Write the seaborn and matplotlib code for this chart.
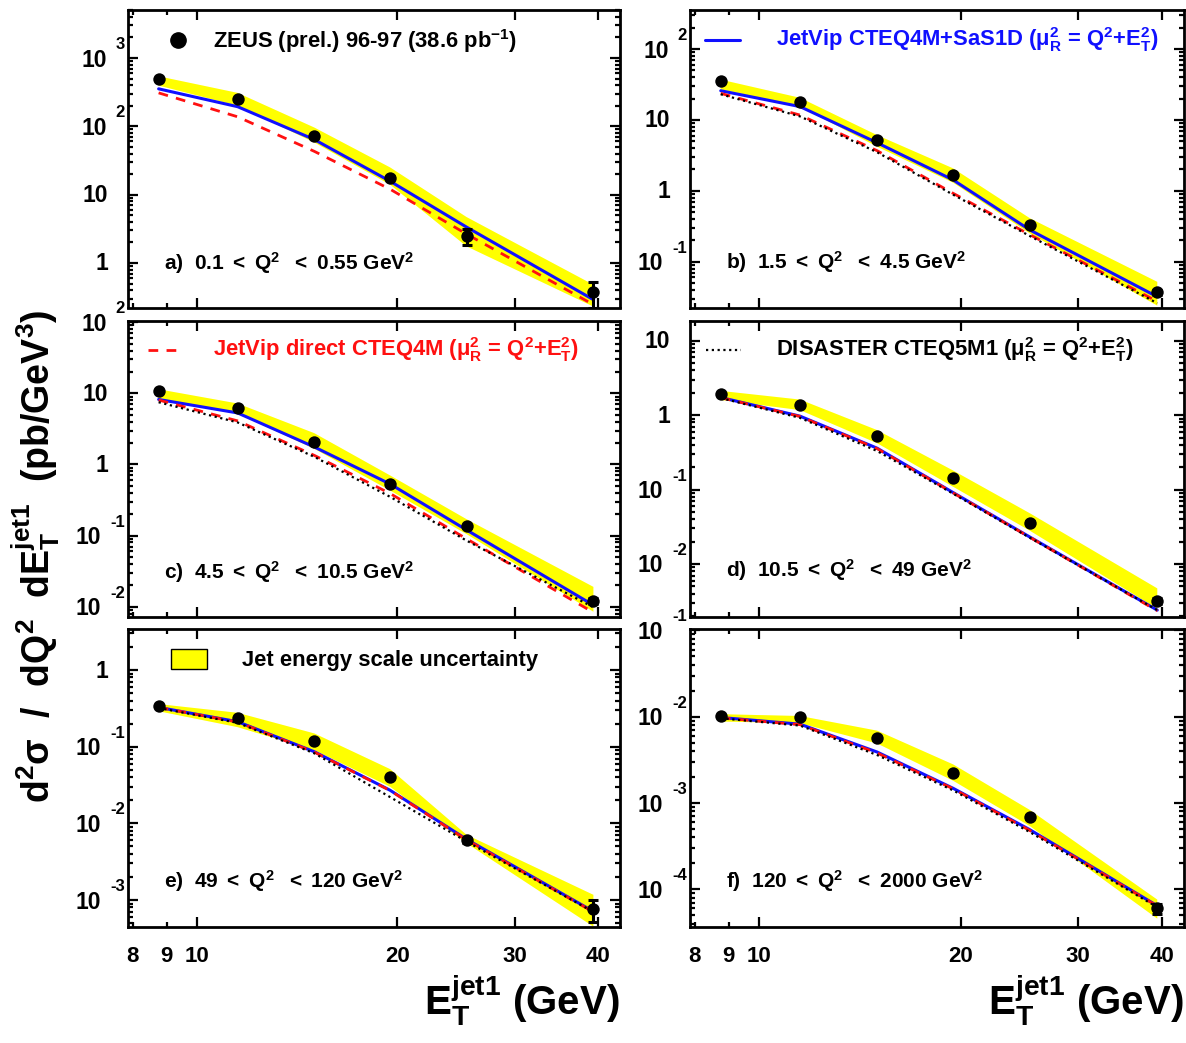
import numpy as np
import matplotlib
matplotlib.use("Agg")
import matplotlib.pyplot as plt
import matplotlib.transforms as mtrans
from matplotlib.lines import Line2D
from matplotlib.patches import Rectangle
import seaborn as sns

# ---------------- data ----------------
et = [8.75, 11.5, 15.0, 19.5, 25.4, 39.4]

a_data = [490, 250, 71, 17.8, 2.5, 0.37]
a_err = [20, 10, 3, 0.8, 0.65, 0.15]
a_jetvip = [354, 194, 64, 15.7, 3.35, 0.29]
a_direct = [309, 138, 43, 12.0, 2.65, 0.245]
a_band_hi = [540, 309, 96, 25, 4.7, 0.48]
a_band_lo = [395, 200, 58, 14, 1.75, 0.23]

b_data = [35.4, 17.7, 5.2, 1.67, 0.33, 0.037]
b_err = [1.0, 0.6, 0.2, 0.07, 0.015, 0.003]
b_jetvip = [25.8, 15.4, 4.76, 1.42, 0.28, 0.032]
b_direct = [23.7, 11.7, 3.68, 0.92, 0.24, 0.0275]
b_disaster = [23.0, 11.2, 3.5, 0.88, 0.23, 0.026]
b_band_hi = [37, 20.5, 6.1, 2.07, 0.41, 0.052]
b_band_lo = [27, 15.4, 4.2, 1.3, 0.25, 0.024]

c_data = [10.8, 6.2, 2.1, 0.53, 0.135, 0.012]
c_err = [0.3, 0.2, 0.08, 0.02, 0.007, 0.0012]
c_jetvip = [8.2, 5.3, 1.76, 0.53, 0.12, 0.0105]
c_direct = [8.05, 4.1, 1.34, 0.39, 0.090, 0.0083]
c_disaster = [7.5, 3.9, 1.28, 0.35, 0.085, 0.0098]
c_band_hi = [11.4, 7.2, 2.75, 0.70, 0.17, 0.019]
c_band_lo = [8.05, 5.2, 1.66, 0.43, 0.105, 0.0085]

d_data = [1.91, 1.39, 0.52, 0.141, 0.036, 0.0032]
d_err = [0.05, 0.04, 0.02, 0.006, 0.002, 0.0003]
d_jetvip = [1.73, 0.97, 0.36, 0.091, 0.023, 0.0024]
d_direct = [1.72, 0.96, 0.355, 0.090, 0.0228, 0.00235]
d_disaster = [1.70, 0.92, 0.33, 0.088, 0.0225, 0.0024]
d_band_hi = [2.12, 1.62, 0.63, 0.18, 0.048, 0.0047]
d_band_lo = [1.6, 1.17, 0.42, 0.109, 0.028, 0.0025]

e_data = [0.34, 0.234, 0.119, 0.040, 0.0060, 0.00076]
e_err = [0.01, 0.008, 0.005, 0.002, 0.0004, 0.00025]
e_jetvip = [0.326, 0.212, 0.086, 0.027, 0.0062, 0.00071]
e_direct = [0.325, 0.21, 0.085, 0.0268, 0.0061, 0.0007]
e_disaster = [0.32, 0.205, 0.082, 0.022, 0.0058, 0.00070]
e_band_hi = [0.36, 0.277, 0.149, 0.051, 0.0071, 0.00117]
e_band_lo = [0.29, 0.18, 0.09, 0.030, 0.0055, 0.00045]

f_data = [0.0102, 0.0098, 0.0056, 0.0022, 0.00069, 0.00006]
f_err = [0.0003, 0.0003, 0.0002, 0.0001, 0.00004, 0.000008]
f_jetvip = [0.0098, 0.0082, 0.0039, 0.00148, 0.00049, 0.0000645]
f_direct = [0.0097, 0.0081, 0.0038, 0.00146, 0.00048, 0.000064]
f_disaster = [0.0096, 0.0079, 0.0036, 0.0014, 0.00046, 0.000062]
f_band_hi = [0.0107, 0.0102, 0.0069, 0.0028, 0.00083, 0.000076]
f_band_lo = [0.0088, 0.0084, 0.0049, 0.00181, 0.00054, 0.0000457]

panel_labels = [
    r"a)  0.1 $<$ Q$^{2}$  $<$ 0.55 GeV$^{2}$",
    r"b)  1.5 $<$ Q$^{2}$  $<$ 4.5 GeV$^{2}$",
    r"c)  4.5 $<$ Q$^{2}$  $<$ 10.5 GeV$^{2}$",
    r"d)  10.5 $<$ Q$^{2}$  $<$ 49 GeV$^{2}$",
    r"e)  49 $<$ Q$^{2}$  $<$ 120 GeV$^{2}$",
    r"f)  120 $<$ Q$^{2}$  $<$ 2000 GeV$^{2}$",
]
ylims = [(0.2228, 5047), (0.0226, 355), (0.00728, 105),
         (0.00197, 18.6), (4.45e-4, 3.39), (3.66e-5, 0.1028)]
xticks_major = [10, 20, 30, 40]
xticks_minor = [8, 9]
xlim = (7.87, 43.2)

legend_zeus = r"ZEUS (prel.) 96-97 (38.6 pb$^{-1}$)"
legend_jetvip = r"JetVip CTEQ4M+SaS1D ($\mu_{R}^{2}$ = Q$^{2}$+E$_{T}^{2}$)"
legend_direct = r"JetVip direct CTEQ4M ($\mu_{R}^{2}$ = Q$^{2}$+E$_{T}^{2}$)"
legend_disaster = r"DISASTER CTEQ5M1 ($\mu_{R}^{2}$ = Q$^{2}$+E$_{T}^{2}$)"
legend_band = "Jet energy scale uncertainty"
xlabel = r"E$_{T}^{jet1}$ (GeV)"
ylabel = r"d$^{2}\sigma$  /  dQ$^{2}$  dE$_{T}^{jet1}$  (pb/GeV$^{3}$)"

panels = [
    (a_data, a_err, a_jetvip, a_direct, None, a_band_lo, a_band_hi),
    (b_data, b_err, b_jetvip, b_direct, b_disaster, b_band_lo, b_band_hi),
    (c_data, c_err, c_jetvip, c_direct, c_disaster, c_band_lo, c_band_hi),
    (d_data, d_err, d_jetvip, d_direct, d_disaster, d_band_lo, d_band_hi),
    (e_data, e_err, e_jetvip, e_direct, e_disaster, e_band_lo, e_band_hi),
    (f_data, f_err, f_jetvip, f_direct, f_disaster, f_band_lo, f_band_hi),
]

# ---------------- style ----------------
sns.set_theme(style="ticks")
plt.rcParams["font.family"] = ["Liberation Sans", "DejaVu Sans"]
plt.rcParams["font.weight"] = "bold"
plt.rcParams["text.color"] = "black"
plt.rcParams["axes.labelcolor"] = "black"
plt.rcParams["xtick.color"] = "black"
plt.rcParams["ytick.color"] = "black"
plt.rcParams["xtick.labelcolor"] = "black"
plt.rcParams["ytick.labelcolor"] = "black"
plt.rcParams["mathtext.fontset"] = "custom"
plt.rcParams["mathtext.rm"] = "Liberation Sans:bold"
plt.rcParams["mathtext.it"] = "Liberation Sans:bold"
plt.rcParams["mathtext.bf"] = "Liberation Sans:bold"
plt.rcParams["mathtext.sf"] = "Liberation Sans:bold"
plt.rcParams["mathtext.default"] = "rm"
plt.rcParams["hatch.linewidth"] = 0.8

BLUE = "#1010ff"
RED = "#ff1010"
YELLOW = "#ffff00"

W, H = 1186, 1043
fig = plt.figure(figsize=(W / 100, H / 100), dpi=100)

col_x = [(128, 620), (690, 1184)]
row_y = [(10, 307.5), (320.7, 616.5), (629.4, 927)]


def px_rect(x0, x1, y0, y1):
    return [x0 / W, 1 - y1 / H, (x1 - x0) / W, (y1 - y0) / H]


def pixel_offset(trans, dx, dy):
    return trans + mtrans.Affine2D().translate(dx, dy)


axes = []
for i in range(6):
    r, c = divmod(i, 2)
    ax = fig.add_axes(px_rect(col_x[c][0], col_x[c][1], row_y[r][0], row_y[r][1]))
    axes.append(ax)
    ax.set_xscale("log")
    ax.set_yscale("log")
    ax.set_xlim(*xlim)
    ax.set_ylim(*ylims[i])

    data, err, jv, dr, ds, blo, bhi = panels[i]

    ax.fill_between(et, blo, bhi, facecolor="#fffff0", edgecolor=YELLOW,
                    hatch="x" * 16, linewidth=0, zorder=1)
    sns.lineplot(x=et, y=jv, ax=ax, color=BLUE, linewidth=2.2,
                 estimator=None, sort=False, zorder=3)
    sns.lineplot(x=et, y=dr, ax=ax, color=RED, linewidth=2.0,
                 estimator=None, sort=False, zorder=4)
    ax.lines[-1].set_dashes([3.5, 3])
    if ds is not None:
        sns.lineplot(x=et, y=ds, ax=ax, color="black", linewidth=1.6,
                     estimator=None, sort=False, zorder=4.5)
        ax.lines[-1].set_dashes([1, 1.6])
    ax.errorbar(et, data, yerr=err, fmt="none", ecolor="black",
                elinewidth=2.2, capsize=3.5, capthick=2.2, zorder=5)
    sns.scatterplot(x=et, y=data, ax=ax, color="black", s=80,
                    linewidth=0, zorder=6)

    # axes styling
    for sp in ax.spines.values():
        sp.set_linewidth(2.0)
        sp.set_color("black")
        sp.set_visible(True)
    ax.set_xticks(xticks_major)
    ax.set_xticks(xticks_minor, minor=True)
    ax.tick_params(axis="both", which="both", direction="in", top=True,
                   right=True, width=1.6, color="black")
    ax.tick_params(axis="both", which="major", length=7)
    ax.tick_params(axis="both", which="minor", length=3.6)
    ax.yaxis.set_major_locator(matplotlib.ticker.LogLocator(base=10, numticks=20))
    ax.yaxis.set_minor_locator(matplotlib.ticker.LogLocator(
        base=10, subs=np.arange(2, 10), numticks=40))
    ax.tick_params(axis="y", which="both", labelleft=False)
    if r == 2:
        ax.set_xticklabels([str(v) for v in xticks_major])
        ax.set_xticklabels([str(v) for v in xticks_minor], minor=True)
        ax.tick_params(axis="x", which="both", labelsize=16, pad=14,
                       labelcolor="black")
        for lab in ax.get_xticklabels(which="both"):
            lab.set_fontweight("bold")
    else:
        ax.tick_params(axis="x", which="both", labelbottom=False)
    ax.set_xlabel("")
    ax.set_ylabel("")
    ax.grid(False)

    # ROOT-like y tick labels
    blend = mtrans.blended_transform_factory(ax.transAxes, ax.transData)
    lo, hi = ylims[i]
    for e in range(-6, 5):
        v = 10.0 ** e
        if v < lo or v > hi * 1.0001:
            continue
        if e in (0, 1):
            ax.text(0, v, "1" if e == 0 else "10",
                    transform=pixel_offset(blend, -20, -1),
                    ha="right", va="center", fontsize=16.5, fontweight="bold",
                    color="black")
        else:
            ex = ax.text(0, v, str(e),
                         transform=pixel_offset(blend, -3, 6),
                         ha="right", va="bottom", fontsize=12,
                         fontweight="bold", color="black")
            ax.annotate("10", xy=(0, 0), xycoords=ex, xytext=(-9, -8),
                        textcoords="offset pixels", ha="right", va="center",
                        fontsize=16.5, fontweight="bold", color="black",
                        annotation_clip=False)

    # panel label
    lab_y = [0.148, 0.152, 0.149, 0.156, 0.155, 0.155][i]
    ax.text(0.073, lab_y, panel_labels[i], transform=ax.transAxes,
            ha="left", va="center", fontsize=15, fontweight="bold",
            color="black")

# ---------------- legends (ROOT style, inside panels) ----------------
axa, axb, axc, axd, axe, axf = axes
axa.add_line(Line2D([0.102], [0.899], transform=axa.transAxes, marker="o",
                    markersize=11, color="black", linestyle="none"))
axa.text(0.173, 0.896, legend_zeus, transform=axa.transAxes, ha="left",
         va="center", fontsize=15.8, fontweight="bold", color="black")

axb.add_line(Line2D([0.030, 0.101], [0.899, 0.899], transform=axb.transAxes,
                    color=BLUE, linewidth=2.2))
axb.text(0.174, 0.899, legend_jetvip, transform=axb.transAxes, ha="left",
         va="center", fontsize=15.8, fontweight="bold", color=BLUE)

ln = Line2D([0.041, 0.102], [0.901, 0.901], transform=axc.transAxes,
            color=RED, linewidth=2.0)
ln.set_dashes([3.5, 3])
axc.add_line(ln)
axc.text(0.173, 0.901, legend_direct, transform=axc.transAxes, ha="left",
         va="center", fontsize=15.8, fontweight="bold", color=RED)

ln = Line2D([0.032, 0.103], [0.901, 0.901], transform=axd.transAxes,
            color="black", linewidth=1.6)
ln.set_dashes([1, 1.6])
axd.add_line(ln)
axd.text(0.174, 0.901, legend_disaster, transform=axd.transAxes, ha="left",
         va="center", fontsize=15.8, fontweight="bold", color="black")

axe.add_patch(Rectangle((0.0876, 0.867), 0.0734, 0.067, transform=axe.transAxes,
                        facecolor=YELLOW, edgecolor="black", linewidth=1.0))
axe.text(0.232, 0.897, legend_band, transform=axe.transAxes, ha="left",
         va="center", fontsize=15.8, fontweight="bold", color="black")

# ---------------- axis titles ----------------
for xr in (620, 1184):
    fig.text(xr / W, 1 - 1015 / H, xlabel, ha="right", va="baseline",
             fontsize=29, fontweight="bold", color="black")
fig.text(50 / W, 1 - 556 / H, ylabel, rotation=90, rotation_mode="anchor",
         ha="center", va="baseline", fontsize=27, fontweight="bold",
         color="black")

fig.savefig("out.png", dpi=100)
